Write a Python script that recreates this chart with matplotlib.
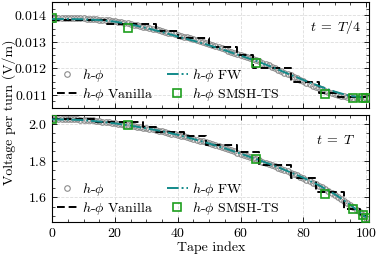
import matplotlib
matplotlib.use('Agg')
import matplotlib.pyplot as plt
from matplotlib.ticker import MultipleLocator

plt.rcParams['font.family'] = 'serif'
plt.rcParams['font.serif'] = ['cmr10']
plt.rcParams['mathtext.fontset'] = 'cm'
plt.rcParams['axes.formatter.use_mathtext'] = True
plt.rcParams['font.size'] = 10

# data
tape = list(range(101))

hphi_q = [0.01389, 0.01389, 0.01389, 0.01389, 0.01389, 0.01389, 0.01388, 0.01388, 0.01388, 0.01388, 0.01388,
          0.01387, 0.01387, 0.01386, 0.01385, 0.01384, 0.01383, 0.01382, 0.01381, 0.01380, 0.01378,
          0.01376, 0.01374, 0.01372, 0.01370, 0.01368, 0.01365, 0.01363, 0.01360, 0.01357, 0.01354,
          0.01352, 0.01349, 0.01347, 0.01344, 0.01341, 0.01338, 0.01335, 0.01332, 0.01329, 0.01326,
          0.01323, 0.01320, 0.01317, 0.01314, 0.01311, 0.01307, 0.01304, 0.01300, 0.01297, 0.01293,
          0.01289, 0.01285, 0.01281, 0.01276, 0.01272, 0.01267, 0.01263, 0.01259, 0.01255, 0.01252,
          0.01248, 0.01244, 0.01240, 0.01235, 0.01231, 0.01226, 0.01221, 0.01216, 0.01211, 0.01205,
          0.01200, 0.01194, 0.01189, 0.01184, 0.01178, 0.01173, 0.01168, 0.01162, 0.01157, 0.01151,
          0.01146, 0.01140, 0.01135, 0.01130, 0.01125, 0.01120, 0.01116, 0.01112, 0.01108, 0.01104,
          0.01100, 0.01097, 0.01094, 0.01092, 0.01090, 0.01088, 0.01087, 0.01087, 0.01088, 0.01089]

hphi_T = [2.027, 2.027, 2.027, 2.026, 2.026, 2.026, 2.025, 2.025, 2.024, 2.023, 2.022,
          2.021, 2.019, 2.018, 2.016, 2.014, 2.012, 2.010, 2.008, 2.006, 2.004,
          2.001, 1.999, 1.996, 1.994, 1.991, 1.988, 1.985, 1.982, 1.979, 1.976,
          1.973, 1.969, 1.966, 1.962, 1.959, 1.955, 1.951, 1.947, 1.943, 1.939,
          1.935, 1.931, 1.927, 1.922, 1.918, 1.913, 1.909, 1.904, 1.899, 1.894,
          1.889, 1.884, 1.879, 1.873, 1.868, 1.862, 1.856, 1.850, 1.844, 1.838,
          1.832, 1.826, 1.820, 1.814, 1.808, 1.802, 1.795, 1.789, 1.782, 1.776,
          1.769, 1.762, 1.756, 1.749, 1.742, 1.735, 1.728, 1.720, 1.713, 1.705,
          1.697, 1.689, 1.681, 1.673, 1.664, 1.655, 1.646, 1.636, 1.626, 1.616,
          1.605, 1.594, 1.583, 1.571, 1.559, 1.546, 1.533, 1.519, 1.504, 1.488]

# Vanilla: piecewise constant (segment start index, level)
van_x_q = [0, 17, 33, 40, 50, 59, 64, 76, 85, 91, 100]
van_y_q = [0.01383, 0.01368, 0.01342, 0.01314, 0.01280, 0.01250, 0.01200, 0.01150, 0.01108, 0.01090, 0.01090]
van_x_T = [0, 14, 29, 33, 42, 49, 59, 66, 76, 84, 93, 98, 100]
van_y_T = [2.025, 2.008, 1.984, 1.958, 1.932, 1.885, 1.845, 1.775, 1.705, 1.630, 1.540, 1.500, 1.500]

fw_x = [0, 5, 10, 15, 20, 25, 30, 35, 40, 45, 50, 55, 60, 65, 70, 75, 80, 85, 90, 95, 100]
fw_q = [0.01386, 0.01386, 0.01385, 0.01382, 0.01376, 0.01366, 0.01352, 0.01337, 0.01320, 0.01304, 0.01287,
        0.01268, 0.01248, 0.01228, 0.01205, 0.01180, 0.01156, 0.01133, 0.01112, 0.01095, 0.01090]
fw_T = [2.024, 2.023, 2.020, 2.012, 2.002, 1.990, 1.975, 1.960, 1.940, 1.917, 1.893,
        1.867, 1.838, 1.808, 1.777, 1.743, 1.707, 1.666, 1.618, 1.560, 1.492]

ts_x = [0, 24, 65, 87, 96, 99, 100]
ts_q = [0.01389, 0.01352, 0.01221, 0.01104, 0.01086, 0.01087, 0.01088]
ts_T = [2.027, 1.995, 1.810, 1.620, 1.540, 1.505, 1.490]

fig = plt.figure(figsize=(3.81, 2.56), dpi=100)
ax1 = fig.add_axes([0.137, 0.578, 0.832, 0.416])
ax2 = fig.add_axes([0.137, 0.133, 0.832, 0.418], sharex=ax1)

panels = [(ax1, hphi_q, van_x_q, van_y_q, fw_q, ts_q, r'$t\;=\;T/4$'),
          (ax2, hphi_T, van_x_T, van_y_T, fw_T, ts_T, r'$t\;=\;T$')]

for ax, hp, vx, vy, fw, ts, lab in panels:
    ax.plot(tape, hp, 'o', ms=4, mfc='none', mec='#8c8c8c', mew=0.8, label=r'$h$-$\phi$', zorder=2)
    ax.step(vx, vy, where='post', color='black', ls=(0, (4, 2)), lw=1.4, label=r'$h$-$\phi$ Vanilla', zorder=3)
    ax.plot(fw_x, fw, color='#138a8a', ls=(0, (6, 1.5, 1, 1.5)), lw=1.4, label=r'$h$-$\phi$ FW', zorder=4)
    ax.plot(ts_x, ts, 's', ms=5.5, mfc='none', mec='#1e9e1e', mew=1.2, label=r'$h$-$\phi$ SMSH-TS', zorder=5)
    ax.text(0.895, 0.76, lab, transform=ax.transAxes, ha='center', va='center', fontsize=10)
    ax.legend(loc='lower left', ncol=2, frameon=False, fontsize=10, numpoints=1,
              handlelength=1.5, columnspacing=1.0, handletextpad=0.3, labelspacing=0.15,
              borderaxespad=0.0, borderpad=0.35)
    ax.grid(True, which='major', ls='--', color='#dddddd', lw=0.6)
    ax.tick_params(which='both', direction='in', top=True, right=True)
    ax.tick_params(which='major', length=3.5, width=0.6)
    ax.tick_params(which='minor', length=2, width=0.5)
    ax.xaxis.set_major_locator(MultipleLocator(20))
    ax.xaxis.set_minor_locator(MultipleLocator(5))
    for s in ax.spines.values():
        s.set_linewidth(0.8)

ax1.set_ylim(0.0105, 0.01452)
ax1.yaxis.set_major_locator(MultipleLocator(0.001))
ax1.yaxis.set_minor_locator(MultipleLocator(0.00025))
ax1.tick_params(labelbottom=False)
ax2.set_ylim(1.467, 2.048)
ax2.yaxis.set_major_locator(MultipleLocator(0.2))
ax2.yaxis.set_minor_locator(MultipleLocator(0.05))
ax2.set_xlim(0, 101)
ax2.set_xlabel('Tape index', labelpad=1)

fig.text(0.025, 0.56, 'Voltage per turn (V/m)', rotation=90, ha='center', va='center')

fig.savefig('out.png', dpi=100)
